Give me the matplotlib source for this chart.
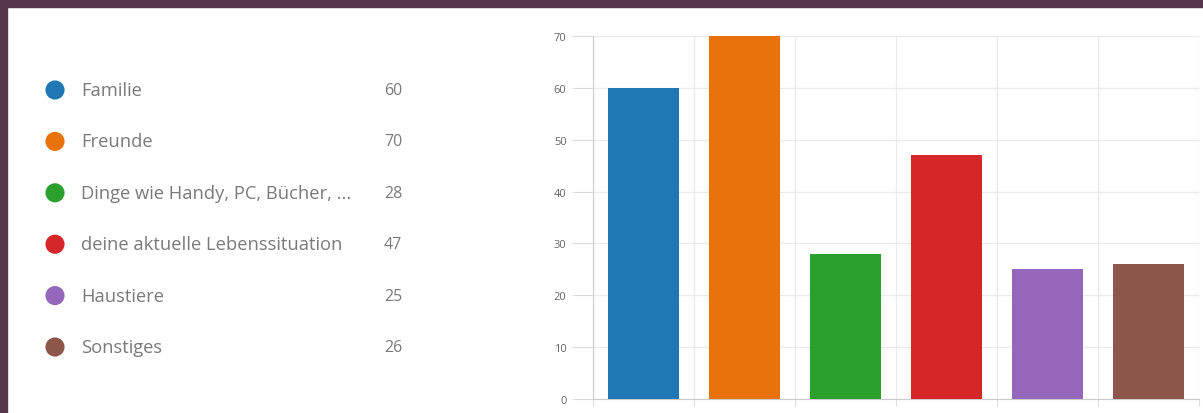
import matplotlib
matplotlib.use("Agg")
import matplotlib.pyplot as plt
from matplotlib.patches import Rectangle

# data
labels = ["Familie", "Freunde", "Dinge wie Handy, PC, Bücher, ...",
          "deine aktuelle Lebenssituation", "Haustiere", "Sonstiges"]
values = [60, 70, 28, 47, 25, 26]
colors = ["#1f77b4", "#e8720c", "#2ca02c", "#d62728", "#9467bd", "#8c564b"]
y_ticks = [0, 10, 20, 30, 40, 50, 60, 70]

plt.rcParams['font.family'] = ['Open Sans', 'DejaVu Sans']

W, H = 1203, 414
fig = plt.figure(figsize=(W / 100, H / 100), dpi=100)
fig.patch.set_facecolor("white")

# dark frame on top and left
frame = "#55364a"
fig.patches.append(Rectangle((0, 1 - 8 / H), 1, 8 / H, transform=fig.transFigure,
                             color=frame, zorder=0))
fig.patches.append(Rectangle((0, 0), 7 / W, 1, transform=fig.transFigure,
                             color=frame, zorder=0))

# legend on the left, in pixel coords
leg = fig.add_axes([0, 0, 1, 1])
leg.set_xlim(0, W)
leg.set_ylim(H, 0)
leg.axis("off")
leg.patch.set_alpha(0)
for i, (lab, val, col) in enumerate(zip(labels, values, colors)):
    y = 91 + i * 51.4
    leg.scatter([55], [y], s=190, color=col, edgecolors="none")
    leg.text(81, y, lab, fontsize=13.2, color="#7a7a7a", va="center", ha="left")
    leg.text(384, y, str(val), fontsize=11.5, color="#7a7a7a", va="center", ha="left")

# bar chart
ax = fig.add_axes([593 / W, 1 - 400 / H, 606 / W, (400 - 37) / H])
x = range(len(values))
ax.bar(x, values, width=0.71, color=colors, zorder=3)
ax.set_xlim(-0.5, len(values) - 0.5)
ax.set_ylim(0, 70)
ax.set_yticks(y_ticks)
ax.set_xticks([i + 0.5 for i in range(-1, len(values))])
ax.set_xticklabels([])
ax.grid(True, color="#ebebeb", linewidth=1, zorder=0)
for s in ["top", "right"]:
    ax.spines[s].set_visible(False)
for s in ["left", "bottom"]:
    ax.spines[s].set_color("#cccccc")
ax.tick_params(axis="y", length=15, color="#dddddd", labelsize=8,
               labelcolor="#666666", pad=4)
ax.tick_params(axis="x", length=5, color="#dddddd")

fig.savefig("out.png", dpi=100)
